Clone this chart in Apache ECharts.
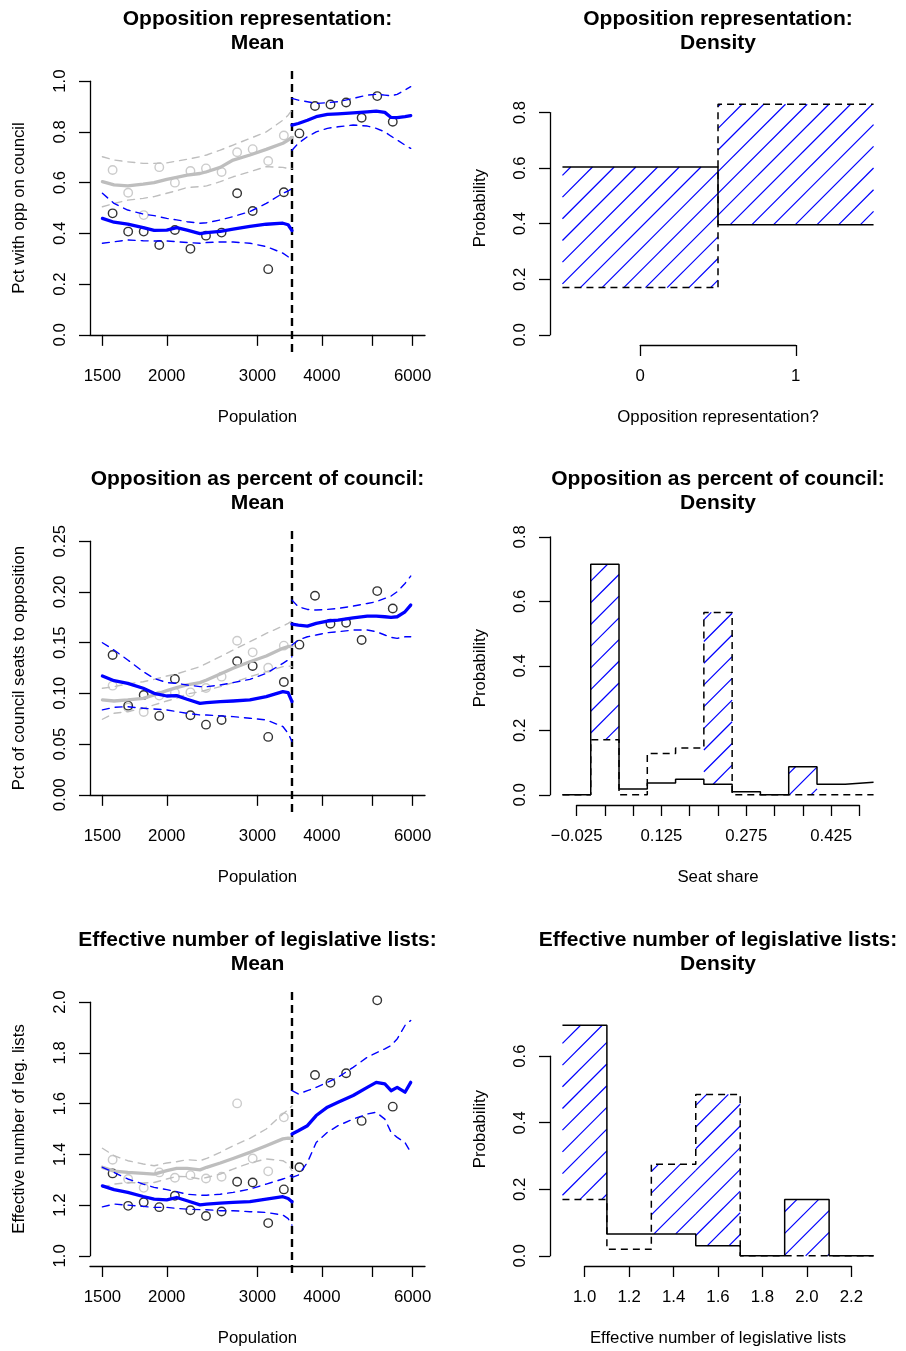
<!DOCTYPE html>
<html>
<head>
<meta charset="utf-8">
<script src="https://cdn.jsdelivr.net/npm/echarts@6/dist/echarts.min.js"></script>
<style>
  html, body { margin: 0; padding: 0; background: #ffffff; }
  #chart { width: 906px; height: 1351px; }
</style>
</head>
<body>
<div id="chart"></div>
<script>
// ---------- shared x values ----------
const cutoff = 3500;
const popLim = [1500, 6000];
const popTicks = [1500, 2000, 3000, 4000, 5000, 6000];
const popLabels = [1500, 2000, 3000, 4000, 6000];
// bin midpoints (population) of the binned means
const binPop = [1570, 1683, 1804, 1934, 2074, 2223, 2383, 2555, 2739, 2936, 3147, 3375, 3618, 3879, 4157, 4458, 4778, 5123, 5491];
// evaluation points of the local fits, below and above the cutoff
const curvePopPre = [1500, 1580, 1680, 1800, 1890, 2000, 2090, 2190, 2320, 2390, 2540, 2690, 2900, 3120, 3360, 3440, 3500];
const curvePopPost = [3500, 3600, 3750, 3900, 4100, 4300, 4600, 4900, 5100, 5300, 5450, 5600, 5800, 5950];

// ---------- Opposition representation ----------
const repYTicks = [0, 0.2, 0.4, 0.6, 0.8, 1.0];
const repPts = [0.479, 0.407, 0.407, 0.354, 0.413, 0.339, 0.391, 0.403, 0.558, 0.488, 0.259, 0.562, 0.794, 0.902, 0.908, 0.916, 0.856, 0.941, 0.840];
const repPtsGray = [0.650, 0.560, 0.472, 0.661, 0.600, 0.646, 0.656, 0.642, 0.720, 0.732, 0.685, 0.786];
const repFitPre = [0.459, 0.444, 0.436, 0.423, 0.412, 0.413, 0.423, 0.413, 0.399, 0.403, 0.408, 0.417, 0.428, 0.436, 0.440, 0.434, 0.411];
const repHiPre = [0.558, 0.518, 0.492, 0.476, 0.470, 0.459, 0.453, 0.446, 0.440, 0.442, 0.453, 0.466, 0.486, 0.518, 0.558, 0.567, 0.577];
const repLoPre = [0.361, 0.367, 0.374, 0.371, 0.370, 0.370, 0.367, 0.364, 0.361, 0.364, 0.366, 0.366, 0.361, 0.348, 0.322, 0.308, 0.289];
const repFitPost = [0.827, 0.833, 0.846, 0.860, 0.869, 0.871, 0.875, 0.879, 0.882, 0.877, 0.857, 0.856, 0.860, 0.864];
const repHiPost = [0.932, 0.925, 0.919, 0.912, 0.915, 0.919, 0.932, 0.945, 0.948, 0.945, 0.942, 0.948, 0.965, 0.978];
const repLoPost = [0.728, 0.755, 0.781, 0.800, 0.814, 0.820, 0.827, 0.823, 0.814, 0.800, 0.783, 0.768, 0.748, 0.735];
const repGrayFit = [0.604, 0.591, 0.587, 0.594, 0.600, 0.613, 0.621, 0.630, 0.636, 0.643, 0.660, 0.689, 0.709, 0.731, 0.755, 0.768, 0.778];
const repGrayHi = [0.702, 0.689, 0.682, 0.676, 0.676, 0.678, 0.685, 0.692, 0.702, 0.709, 0.728, 0.748, 0.774, 0.800, 0.846, 0.866, 0.886];
const repGrayLo = [0.505, 0.518, 0.531, 0.538, 0.545, 0.558, 0.568, 0.581, 0.584, 0.587, 0.604, 0.623, 0.643, 0.663, 0.660, 0.656, 0.656];

const repHistEdges = [-0.5, 0.5, 1.5];
const repHistSolid = [0.604, 0.396];
const repHistDashed = [0.170, 0.830];
const repHistHatch = [true, true];
const repHistXTicks = [0, 1];
const repHistXLabels = [0, 1];
const repHistYTicks = [0, 0.2, 0.4, 0.6, 0.8];

// ---------- Opposition as percent of council ----------
const shareYTicks = [0, 0.05, 0.10, 0.15, 0.20, 0.25];
const sharePts = [0.1378, 0.0879, 0.0984, 0.0778, 0.1142, 0.0784, 0.0692, 0.0738, 0.1316, 0.1270, 0.0571, 0.1112, 0.1480, 0.1962, 0.1686, 0.1696, 0.1526, 0.2008, 0.1837];
const sharePtsGray = [0.1076, 0.0860, 0.0817, 0.0978, 0.1007, 0.1010, 0.1053, 0.1165, 0.1519, 0.1404, 0.1253, 0.1470];
const shareFitPre = [0.1171, 0.1125, 0.1099, 0.1050, 0.1001, 0.0974, 0.0978, 0.0942, 0.0902, 0.0909, 0.0919, 0.0925, 0.0935, 0.0968, 0.1017, 0.1007, 0.0919];
const shareHiPre = [0.1499, 0.1427, 0.1329, 0.1214, 0.1148, 0.1106, 0.1099, 0.1083, 0.1066, 0.1066, 0.1083, 0.1106, 0.1138, 0.1197, 0.1296, 0.1329, 0.1362];
const shareLoPre = [0.0837, 0.0863, 0.0869, 0.0853, 0.0846, 0.0837, 0.0820, 0.0804, 0.0787, 0.0787, 0.0778, 0.0771, 0.0755, 0.0738, 0.0673, 0.0607, 0.0525];
const shareFitPost = [0.1683, 0.1673, 0.1663, 0.1690, 0.1713, 0.1722, 0.1745, 0.1762, 0.1762, 0.1755, 0.1749, 0.1755, 0.1804, 0.1870];
const shareHiPost = [0.1919, 0.1854, 0.1827, 0.1821, 0.1827, 0.1837, 0.1860, 0.1886, 0.1903, 0.1936, 0.1959, 0.2001, 0.2083, 0.2156];
const shareLoPost = [0.1476, 0.1526, 0.1558, 0.1575, 0.1598, 0.1608, 0.1624, 0.1624, 0.1608, 0.1575, 0.1552, 0.1542, 0.1558, 0.1558];
const shareGrayFit = [0.0935, 0.0925, 0.0935, 0.0951, 0.0984, 0.1027, 0.1056, 0.1083, 0.1106, 0.1132, 0.1191, 0.1247, 0.1312, 0.1368, 0.1444, 0.1460, 0.1466];
const shareGrayHi = [0.1050, 0.1066, 0.1093, 0.1115, 0.1138, 0.1171, 0.1191, 0.1224, 0.1263, 0.1296, 0.1362, 0.1427, 0.1509, 0.1591, 0.1663, 0.1690, 0.1713];
const shareGrayLo = [0.0745, 0.0804, 0.0820, 0.0853, 0.0886, 0.0925, 0.0951, 0.0994, 0.1017, 0.1033, 0.1066, 0.1106, 0.1165, 0.1214, 0.1263, 0.1270, 0.1263];

const shareHistEdges = [-0.05, 0, 0.05, 0.1, 0.15, 0.2, 0.25, 0.3, 0.35, 0.4, 0.45, 0.5];
const shareHistSolid = [0, 0.715, 0.0185, 0.037, 0.048, 0.033, 0.010, 0, 0.087, 0.033, 0.039];
const shareHistDashed = [0, 0.171, 0, 0.1285, 0.145, 0.5655, 0, 0, 0, 0, 0];
const shareHistHatch = [false, true, false, false, false, true, false, false, true, false, false];
const shareHistXTicks = [-0.025, 0.025, 0.075, 0.125, 0.175, 0.225, 0.275, 0.325, 0.375, 0.425, 0.475];
const shareHistXLabels = [-0.025, 0.125, 0.275, 0.425];
const shareHistYTicks = [0, 0.2, 0.4, 0.6, 0.8];

// ---------- Effective number of legislative lists ----------
const enlYTicks = [1.0, 1.2, 1.4, 1.6, 1.8, 2.0];
const enlPts = [1.325, 1.197, 1.211, 1.192, 1.237, 1.180, 1.157, 1.175, 1.292, 1.289, 1.129, 1.262, 1.349, 1.713, 1.682, 1.720, 1.532, 2.007, 1.588];
const enlPtsGray = [1.379, 1.303, 1.268, 1.329, 1.308, 1.318, 1.305, 1.312, 1.601, 1.384, 1.333, 1.546];
const enlFitPre = [1.276, 1.261, 1.250, 1.234, 1.224, 1.221, 1.230, 1.217, 1.201, 1.204, 1.208, 1.211, 1.214, 1.224, 1.233, 1.226, 1.213];
const enlHiPre = [1.349, 1.329, 1.303, 1.283, 1.270, 1.261, 1.253, 1.243, 1.239, 1.239, 1.243, 1.250, 1.263, 1.283, 1.303, 1.309, 1.318];
const enlLoPre = [1.193, 1.204, 1.200, 1.195, 1.191, 1.191, 1.187, 1.184, 1.182, 1.182, 1.178, 1.178, 1.174, 1.171, 1.161, 1.147, 1.121];
const enlFitPost = [1.480, 1.493, 1.513, 1.553, 1.586, 1.605, 1.632, 1.664, 1.684, 1.678, 1.651, 1.664, 1.645, 1.684];
const enlHiPost = [1.651, 1.638, 1.651, 1.664, 1.684, 1.704, 1.743, 1.783, 1.800, 1.816, 1.829, 1.855, 1.908, 1.928];
const enlLoPost = [1.309, 1.318, 1.368, 1.447, 1.487, 1.513, 1.539, 1.559, 1.566, 1.539, 1.487, 1.467, 1.447, 1.408];
const enlGrayFit = [1.349, 1.334, 1.329, 1.325, 1.322, 1.336, 1.345, 1.345, 1.339, 1.349, 1.366, 1.384, 1.408, 1.434, 1.461, 1.464, 1.463];
const enlGrayHi = [1.424, 1.395, 1.375, 1.362, 1.355, 1.366, 1.371, 1.379, 1.375, 1.384, 1.408, 1.434, 1.463, 1.500, 1.559, 1.576, 1.592];
const enlGrayLo = [1.270, 1.283, 1.289, 1.287, 1.289, 1.303, 1.313, 1.312, 1.303, 1.309, 1.322, 1.342, 1.366, 1.382, 1.375, 1.362, 1.336];

const enlHistEdges = [0.9, 1.1, 1.3, 1.5, 1.7, 1.9, 2.1, 2.3];
const enlHistSolid = [0.693, 0.066, 0.066, 0.030, 0, 0.169, 0];
const enlHistDashed = [0.169, 0.020, 0.275, 0.485, 0, 0, 0];
const enlHistHatch = [true, false, true, true, false, true, false];
const enlHistXTicks = [1.0, 1.2, 1.4, 1.6, 1.8, 2.0, 2.2];
const enlHistXLabels = [1.0, 1.2, 1.4, 1.6, 1.8, 2.0, 2.2];
const enlHistYTicks = [0, 0.2, 0.4, 0.6];

// ---------- styling and layout ----------
const FONT = '"Liberation Sans", Arial, Helvetica, sans-serif';
const INK = '#000000';
const BLUE = '#0000ff';
const GRAY = '#bebebe';
const TEXT_SIZE = 16.8;
const TITLE_SIZE = 21;
const ROW_TOP = [71, 531, 992];
const PLOT_H = 274;
const COL_LEFT = [90, 550];
const PLOT_W = [335, 336];
const EXPAND = 0.04;          // 4% padding around the data limits
const HATCH_GAP = 21.7;       // horizontal spacing of the hatch lines, px

const axisText = { color: INK, fontSize: TEXT_SIZE, fontFamily: FONT };
const axisLine = { show: true, lineStyle: { color: INK, width: 1.3 } };

const grids = [], xAxes = [], yAxes = [], series = [], graphics = [];

function expand(lim) {
  const d = (lim[1] - lim[0]) * EXPAND;
  return [lim[0] - d, lim[1] + d];
}
function addGrid(left, top, width, height) {
  return grids.push({ left, top, width, height, containLabel: false, outerBoundsMode: 'none' }) - 1;
}
function hiddenAxis(gridIndex, min, max) {
  return { type: 'value', gridIndex, min, max, show: false };
}
function fixed(d) {
  return v => (v < 0 ? '\u2212' : '') + Math.abs(v).toFixed(d);
}
function addTitle(cx, top, line1, line2) {
  [[line1, top - 52], [line2, top - 28]].forEach(([text, y]) => {
    graphics.push({
      type: 'text', x: cx, y, silent: true,
      style: { text, fill: INK, fontSize: TITLE_SIZE, fontWeight: 'bold', fontFamily: FONT, align: 'center', verticalAlign: 'middle' }
    });
  });
}
// visible y axis drawn over the span of its ticks only
function addYAxisBand(left, width, top, yu, ticks, digits) {
  const pix = v => top + PLOT_H * (yu[1] - v) / (yu[1] - yu[0]);
  const t0 = ticks[0], t1 = ticks[ticks.length - 1];
  const g = addGrid(left, pix(t1), width, pix(t0) - pix(t1));
  xAxes.push(hiddenAxis(g, 0, 1));
  yAxes.push({
    type: 'value', gridIndex: g, min: t0, max: t1,
    axisLine,
    axisTick: { show: true, inside: false, length: 11, customValues: ticks, lineStyle: { color: INK, width: 1.3 } },
    axisLabel: { show: true, customValues: ticks, formatter: fixed(digits), rotate: 90, margin: 21.5, showMinLabel: true, showMaxLabel: true, ...axisText },
    splitLine: { show: false }
  });
}

function lineSeries(xi, yi, xs, ys, color, width, dashed) {
  return {
    type: 'line', xAxisIndex: xi, yAxisIndex: yi, silent: true,
    data: xs.map((x, i) => [Math.log10(x), ys[i]]),
    showSymbol: false, symbol: 'none', smooth: false,
    lineStyle: { color, width, type: dashed ? [7, 6] : 'solid', cap: 'round', join: 'round' }
  };
}
function pointSeries(xi, yi, xs, ys, color) {
  return {
    type: 'scatter', xAxisIndex: xi, yAxisIndex: yi, silent: true,
    data: ys.map((y, i) => [Math.log10(xs[i]), y]),
    symbol: 'circle', symbolSize: 8.5,
    itemStyle: { color: 'rgba(0,0,0,0)', borderColor: color, borderWidth: 1.4 }
  };
}

// ---------- left column: binned means with local fits ----------
function meanPanel(row, p) {
  const left = COL_LEFT[0], width = PLOT_W[0], top = ROW_TOP[row];
  const xu = expand([Math.log10(popLim[0]), Math.log10(popLim[1])]);
  const yu = expand(p.ylim);
  const g = addGrid(left, top, width, PLOT_H);
  const xi = xAxes.push({
    type: 'value', gridIndex: g, min: xu[0], max: xu[1],
    name: 'Population', nameLocation: 'middle', nameGap: 63.5, nameTextStyle: axisText,
    axisLine,
    axisTick: { show: true, inside: false, length: 11, customValues: popTicks.map(Math.log10), lineStyle: { color: INK, width: 1.3 } },
    axisLabel: { show: true, customValues: popLabels.map(Math.log10), formatter: v => String(Math.round(Math.pow(10, v))), margin: 23, showMinLabel: true, showMaxLabel: true, ...axisText },
    splitLine: { show: false }
  }) - 1;
  const yi = yAxes.push({
    type: 'value', gridIndex: g, min: yu[0], max: yu[1],
    name: p.yName, nameLocation: 'middle', nameGap: 62.5, nameTextStyle: axisText,
    axisLine: { show: false }, axisTick: { show: false }, axisLabel: { show: false }, splitLine: { show: false }
  }) - 1;
  addYAxisBand(left, width, top, yu, p.yTicks, p.digits);
  addTitle(left + width / 2, top, p.title, 'Mean');

  const nPre = p.grayPts.length;
  series.push(
    lineSeries(xi, yi, curvePopPre, p.grayLo, GRAY, 1.4, true),
    lineSeries(xi, yi, curvePopPre, p.grayHi, GRAY, 1.4, true),
    lineSeries(xi, yi, curvePopPre, p.grayFit, GRAY, 3.3, false),
    pointSeries(xi, yi, binPop.slice(0, nPre), p.grayPts, GRAY),
    lineSeries(xi, yi, curvePopPre, p.loPre, BLUE, 1.4, true),
    lineSeries(xi, yi, curvePopPre, p.hiPre, BLUE, 1.4, true),
    lineSeries(xi, yi, curvePopPost, p.loPost, BLUE, 1.4, true),
    lineSeries(xi, yi, curvePopPost, p.hiPost, BLUE, 1.4, true),
    lineSeries(xi, yi, curvePopPre, p.fitPre, BLUE, 3.3, false),
    lineSeries(xi, yi, curvePopPost, p.fitPost, BLUE, 3.3, false),
    pointSeries(xi, yi, binPop, p.pts, INK),
    {
      // dashed vertical line at the population cutoff
      type: 'custom', xAxisIndex: xi, yAxisIndex: yi, clip: false, silent: true,
      data: [[Math.log10(cutoff), yu[0]]], encode: { x: 0, y: 1 },
      renderItem: (params, api) => {
        const a = api.coord([api.value(0), yu[1]]);
        const b = api.coord([api.value(0), yu[0]]);
        return { type: 'line', shape: { x1: a[0], y1: a[1], x2: b[0], y2: b[1] + 10 }, style: { stroke: INK, lineWidth: 2.4, lineDash: [8, 5] } };
      }
    }
  );
}

// ---------- right column: histograms of the two groups ----------
function stepSeries(xi, yi, edges, heights, dashed) {
  const n = heights.length;
  return {
    type: 'line', xAxisIndex: xi, yAxisIndex: yi, silent: true, step: 'end',
    data: edges.map((e, i) => [e, heights[Math.min(i, n - 1)]]),
    showSymbol: false, symbol: 'none',
    lineStyle: { color: INK, width: 1.5, type: dashed ? [7, 5] : 'solid' }
  };
}
function densityPanel(row, p) {
  const left = COL_LEFT[1], width = PLOT_W[1], top = ROW_TOP[row];
  const xlim = [p.edges[0], p.edges[p.edges.length - 1]];
  const ymax = Math.max(...p.solid, ...p.dashed) * 1.1;
  const xu = expand(xlim), yu = expand([0, ymax]);
  const g = addGrid(left, top, width, PLOT_H);
  const xi = xAxes.push({
    type: 'value', gridIndex: g, min: xu[0], max: xu[1],
    name: p.xName, nameLocation: 'middle', nameGap: 63.5, nameTextStyle: axisText,
    axisLine: { show: false }, axisTick: { show: false }, axisLabel: { show: false }, splitLine: { show: false }
  }) - 1;
  const yi = yAxes.push({
    type: 'value', gridIndex: g, min: yu[0], max: yu[1],
    name: 'Probability', nameLocation: 'middle', nameGap: 61, nameTextStyle: axisText,
    axisLine: { show: false }, axisTick: { show: false }, axisLabel: { show: false }, splitLine: { show: false }
  }) - 1;
  addYAxisBand(left, width, top, yu, p.yTicks, 1);

  // visible x axis drawn over the span of its ticks only
  const xpix = v => left + width * (v - xu[0]) / (xu[1] - xu[0]);
  const t0 = p.xTicks[0], t1 = p.xTicks[p.xTicks.length - 1];
  const gx = addGrid(xpix(t0), top, xpix(t1) - xpix(t0), PLOT_H);
  xAxes.push({
    type: 'value', gridIndex: gx, min: t0, max: t1,
    axisLine,
    axisTick: { show: true, inside: false, length: 11, customValues: p.xTicks, lineStyle: { color: INK, width: 1.3 } },
    axisLabel: { show: true, customValues: p.xLabels, formatter: fixed(p.xDigits), margin: 23, showMinLabel: true, showMaxLabel: true, ...axisText },
    splitLine: { show: false }
  });
  yAxes.push(hiddenAxis(gx, 0, 1));

  addTitle(left + width / 2, top, p.title, 'Density');

  const hatchData = [];
  p.hatch.forEach((h, i) => {
    if (h) hatchData.push([p.edges[i], p.edges[i + 1], Math.min(p.solid[i], p.dashed[i]), Math.max(p.solid[i], p.dashed[i])]);
  });
  series.push(
    {
      // diagonal blue shading between the two histograms
      type: 'custom', xAxisIndex: xi, yAxisIndex: yi, silent: true,
      data: hatchData, encode: { x: [0, 1], y: [2, 3] },
      renderItem: (params, api) => {
        const a = api.coord([api.value(0), api.value(3)]);
        const b = api.coord([api.value(1), api.value(2)]);
        const x0 = a[0], y0 = a[1], x1 = b[0], y1 = b[1];
        const children = [];
        for (let c = Math.ceil((x0 + y0) / HATCH_GAP) * HATCH_GAP; c < x1 + y1; c += HATCH_GAP) {
          const xa = Math.max(x0, c - y1), xb = Math.min(x1, c - y0);
          if (xb - xa < 0.3) continue;
          children.push({ type: 'line', shape: { x1: xa, y1: c - xa, x2: xb, y2: c - xb }, style: { stroke: BLUE, lineWidth: 1.2 } });
        }
        return { type: 'group', children };
      }
    },
    stepSeries(xi, yi, p.edges, p.dashed, true),
    stepSeries(xi, yi, p.edges, p.solid, false)
  );
}

meanPanel(0, { title: 'Opposition representation:', yName: 'Pct with opp on council', ylim: [0, 1], yTicks: repYTicks, digits: 1,
  pts: repPts, grayPts: repPtsGray, fitPre: repFitPre, hiPre: repHiPre, loPre: repLoPre,
  fitPost: repFitPost, hiPost: repHiPost, loPost: repLoPost, grayFit: repGrayFit, grayHi: repGrayHi, grayLo: repGrayLo });
meanPanel(1, { title: 'Opposition as percent of council:', yName: 'Pct of council seats to opposition', ylim: [0, 0.25], yTicks: shareYTicks, digits: 2,
  pts: sharePts, grayPts: sharePtsGray, fitPre: shareFitPre, hiPre: shareHiPre, loPre: shareLoPre,
  fitPost: shareFitPost, hiPost: shareHiPost, loPost: shareLoPost, grayFit: shareGrayFit, grayHi: shareGrayHi, grayLo: shareGrayLo });
meanPanel(2, { title: 'Effective number of legislative lists:', yName: 'Effective number of leg. lists', ylim: [1, 2], yTicks: enlYTicks, digits: 1,
  pts: enlPts, grayPts: enlPtsGray, fitPre: enlFitPre, hiPre: enlHiPre, loPre: enlLoPre,
  fitPost: enlFitPost, hiPost: enlHiPost, loPost: enlLoPost, grayFit: enlGrayFit, grayHi: enlGrayHi, grayLo: enlGrayLo });

densityPanel(0, { title: 'Opposition representation:', xName: 'Opposition representation?',
  edges: repHistEdges, solid: repHistSolid, dashed: repHistDashed, hatch: repHistHatch,
  xTicks: repHistXTicks, xLabels: repHistXLabels, xDigits: 0, yTicks: repHistYTicks });
densityPanel(1, { title: 'Opposition as percent of council:', xName: 'Seat share',
  edges: shareHistEdges, solid: shareHistSolid, dashed: shareHistDashed, hatch: shareHistHatch,
  xTicks: shareHistXTicks, xLabels: shareHistXLabels, xDigits: 3, yTicks: shareHistYTicks });
densityPanel(2, { title: 'Effective number of legislative lists:', xName: 'Effective number of legislative lists',
  edges: enlHistEdges, solid: enlHistSolid, dashed: enlHistDashed, hatch: enlHistHatch,
  xTicks: enlHistXTicks, xLabels: enlHistXLabels, xDigits: 1, yTicks: enlHistYTicks });

const chart = echarts.init(document.getElementById('chart'), null, { renderer: 'canvas' });
chart.setOption({
  animation: false,
  backgroundColor: '#ffffff',
  textStyle: { fontFamily: FONT },
  grid: grids,
  xAxis: xAxes,
  yAxis: yAxes,
  series,
  graphic: graphics
});
</script>
</body>
</html>
